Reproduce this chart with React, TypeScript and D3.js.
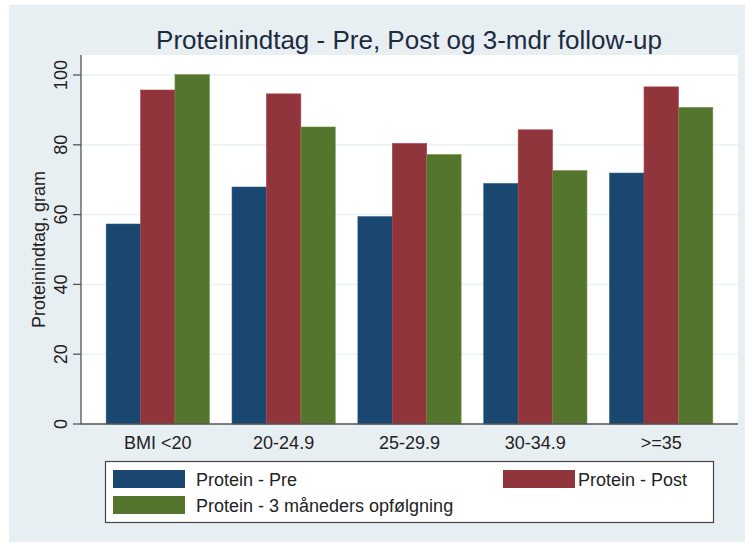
import React from "react";
import * as d3 from "d3";

const categories = ["BMI <20", "20-24.9", "25-29.9", "30-34.9", ">=35"];
const seriesNames = ["Protein - Pre", "Protein - Post", "Protein - 3 måneders opfølgning"];
const proteinPre = [57.3, 67.9, 59.4, 68.9, 71.9];
const proteinPost = [95.7, 94.6, 80.4, 84.3, 96.6];
const protein3m = [100.1, 85.1, 77.2, 72.6, 90.7];
const yTicks = [0, 20, 40, 60, 80, 100];
const colors = ["#1a476f", "#90353b", "#55752f"];

const W = 745;
const H = 543;
const FONT = "'Liberation Sans', Arial, sans-serif";

export default function App() {
  const series = [proteinPre, proteinPost, protein3m];
  const plotLeft = 81, plotRight = 738, plotTop = 55, plotBottom = 424;
  const x0 = d3.scaleBand<string>().domain(categories).range([plotLeft, plotRight]).paddingInner(0.18).paddingOuter(0.2);
  const x1 = d3.scaleBand<number>().domain([0, 1, 2]).range([0, x0.bandwidth()]).padding(0);
  const y = d3.scaleLinear().domain([0, 100]).range([424, 75]);

  const legendItems = [
    { i: 0, kx: 113, ky: 470, tx: 196 },
    { i: 1, kx: 503, ky: 470, tx: 578 },
    { i: 2, kx: 113, ky: 496, tx: 196 },
  ];

  return (
    <svg width={W} height={H} style={{ position: "absolute", left: 0, top: 0 }} fontFamily={FONT}>
      <rect x={0} y={0} width={W} height={H} fill="#ffffff" />
      <rect x={9} y={5} width={W - 9} height={537} fill="#e8eff2" />
      <rect x={plotLeft} y={plotTop} width={plotRight - plotLeft} height={plotBottom - plotTop} fill="#ffffff" />
      {yTicks.filter((t) => t > 0).map((t) => (
        <line key={"g" + t} x1={plotLeft} x2={plotRight} y1={y(t)} y2={y(t)} stroke="#eaf2f3" strokeWidth={1.5} />
      ))}
      {categories.map((c, ci) => (
        <g key={c} transform={`translate(${x0(c)},0)`}>
          {series.map((s, si) => (
            <rect
              key={si}
              x={x1(si)}
              y={y(s[ci])}
              width={x1.bandwidth()}
              height={y(0) - y(s[ci])}
              fill={colors[si]}
              stroke={d3.color(colors[si])!.brighter(0.6).toString()}
              strokeWidth={0.6}
            />
          ))}
        </g>
      ))}
      <line x1={plotLeft} x2={plotLeft} y1={plotTop} y2={plotBottom + 0.5} stroke="#555" strokeWidth={1.3} />
      <line x1={plotLeft} x2={plotRight} y1={plotBottom} y2={plotBottom} stroke="#555" strokeWidth={1.3} />
      {yTicks.map((t) => (
        <g key={"t" + t}>
          <line x1={73} x2={plotLeft} y1={y(t)} y2={y(t)} stroke="#555" strokeWidth={1.3} />
          <text transform={`translate(67,${y(t)}) rotate(-90)`} textAnchor="middle" fontSize={18} fill="#222">
            {t}
          </text>
        </g>
      ))}
      <text transform={`translate(45,${(y(0) + y(100)) / 2}) rotate(-90)`} textAnchor="middle" fontSize={18} fill="#222">
        Proteinindtag, gram
      </text>
      {categories.map((c) => (
        <text key={"x" + c} x={x0(c)! + x0.bandwidth() / 2} y={449} textAnchor="middle" fontSize={18} fill="#222">
          {c}
        </text>
      ))}
      <text x={409} y={49} textAnchor="middle" fontSize={26} fill="#1c2b3f">
        Proteinindtag - Pre, Post og 3-mdr follow-up
      </text>
      <rect x={105.5} y={461.5} width={608} height={61} fill="#ffffff" stroke="#444" strokeWidth={1.2} />
      {legendItems.map((it) => (
        <g key={"l" + it.i}>
          <rect x={it.kx} y={it.ky} width={72} height={18} fill={colors[it.i]} />
          <text x={it.tx} y={it.ky + 16} fontSize={18} fill="#222">
            {seriesNames[it.i]}
          </text>
        </g>
      ))}
    </svg>
  );
}
